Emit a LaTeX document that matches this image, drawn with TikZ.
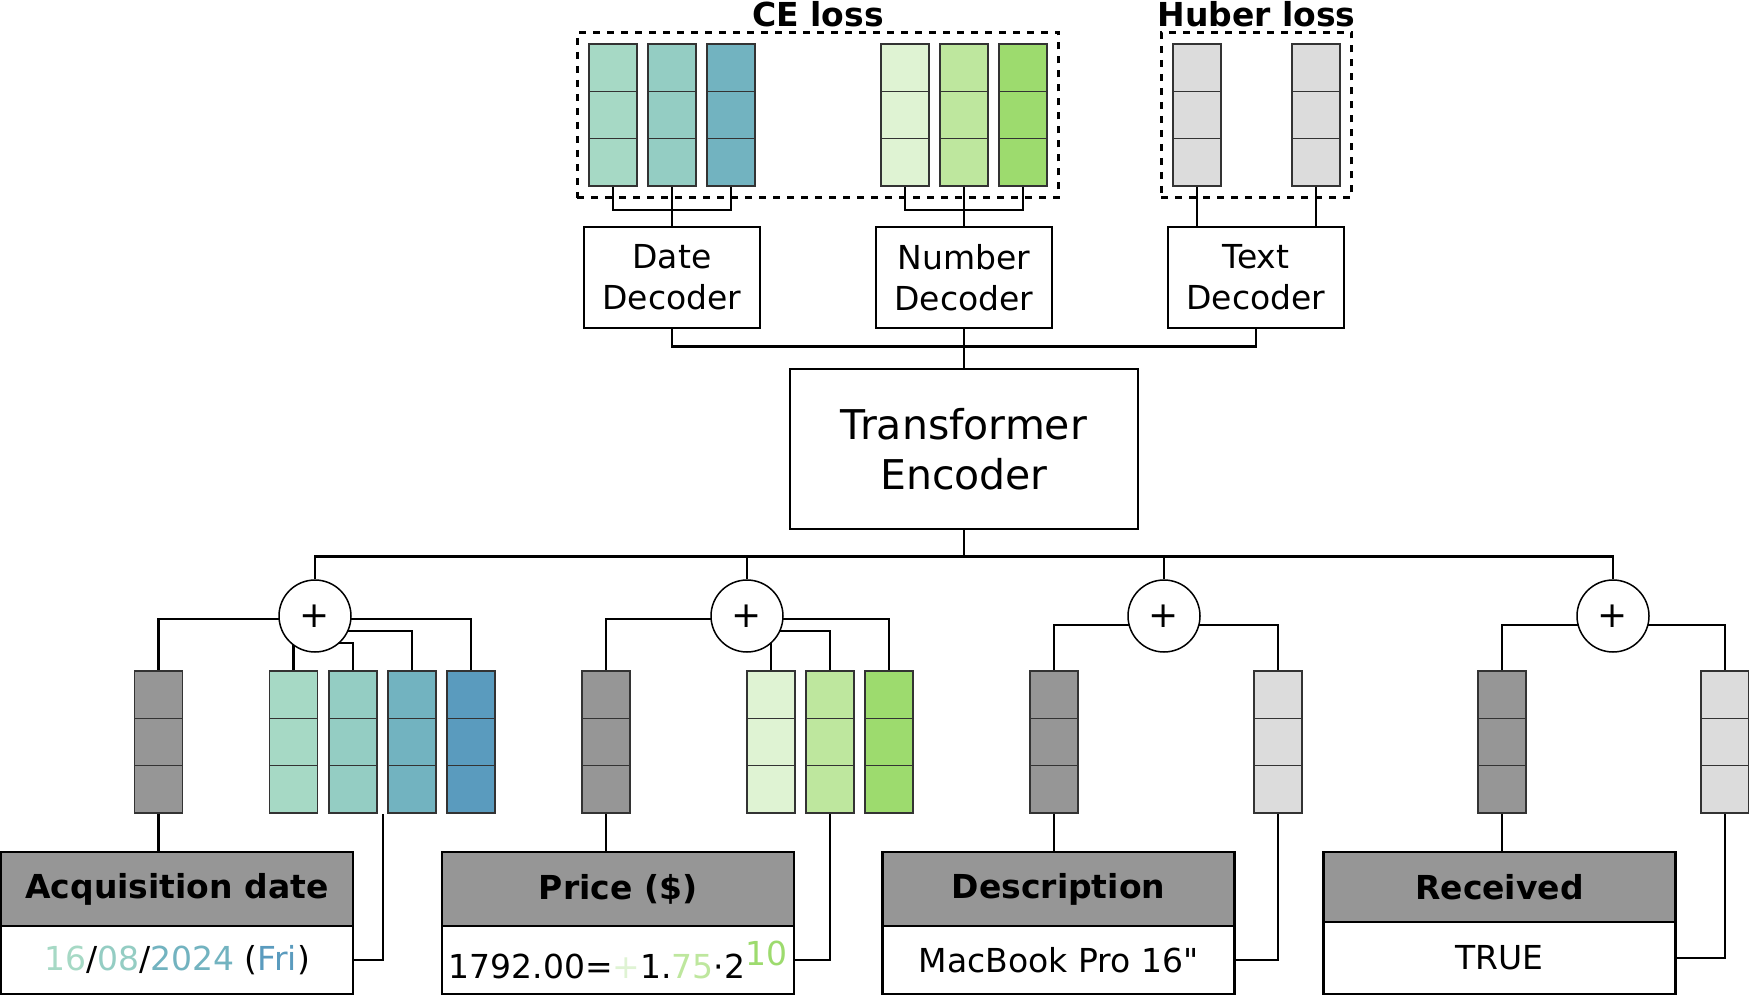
\documentclass[tikz,border=0pt]{standalone}
\usepackage{fontspec}
\setmainfont{DejaVu Sans}[Ligatures=TeXOff]
\usetikzlibrary{positioning, fit, backgrounds}

\definecolor{dateA}{HTML}{A6D9C5}
\definecolor{dateB}{HTML}{94CDC3}
\definecolor{dateC}{HTML}{72B3C0}
\definecolor{dateD}{HTML}{5A9BBE}
\definecolor{numA}{HTML}{DFF3D3}
\definecolor{numB}{HTML}{BEE79E}
\definecolor{numC}{HTML}{9DDB6E}
\definecolor{colgrey}{HTML}{969696}
\definecolor{txtgrey}{HTML}{DCDCDC}

\tikzset{
	conn/.style={line width=2.5pt},
	vec/.style={draw=black!80, line width=1.5pt, fill=#1, minimum width=48pt, minimum height=142pt, inner sep=0pt,
		path picture={\foreach \k in {1,2}
			\draw[line width=1.5pt] ([yshift=-\k*47.33pt]path picture bounding box.north west) -- ([yshift=-\k*47.33pt]path picture bounding box.north east);}},
	decoder/.style={draw, line width=2.5pt, minimum width=176pt, minimum height=101pt, align=center, font=\fontsize{33}{41}\selectfont},
	encoder/.style={draw, line width=2.5pt, minimum width=348pt, minimum height=160pt, align=center, font=\fontsize{41}{50}\selectfont},
	sumnode/.style={circle, draw, line width=1.5pt, fill=white, minimum size=72pt, inner sep=0pt, font=\fontsize{36}{36}\selectfont},
	lossbox/.style={draw, dash pattern=on 7pt off 7pt, line width=3pt, inner sep=11pt},
	losslabel/.style={font=\bfseries\fontsize{33}{33}\selectfont, anchor=base, inner sep=0pt},
	fieldhead/.style={draw, line width=2.5pt, outer sep=0pt, fill=colgrey, minimum width=352pt, minimum height=74pt, font=\bfseries\fontsize{33}{33}\selectfont},
	fieldval/.style={draw, line width=2.5pt, outer sep=0pt, fill=white, minimum width=352pt, minimum height=68pt, font=\fontsize{33}{33}\selectfont}
}

\begin{document}
\begin{tikzpicture}[x=1pt, y=-1pt]
	\useasboundingbox (0,0) rectangle (1749,996);

	% decoder outputs
	\node[vec=dateA] (ce1) at (613,115) {};
	\node[vec=dateB] (ce2) at (672,115) {};
	\node[vec=dateC] (ce3) at (731,115) {};
	\node[vec=numA] (ce4) at (905,115) {};
	\node[vec=numB] (ce5) at (964,115) {};
	\node[vec=numC] (ce6) at (1023,115) {};
	\node[vec=txtgrey] (hu1) at (1197,115) {};
	\node[vec=txtgrey] (hu2) at (1316,115) {};

	\node[lossbox, fit=(ce1)(ce6)] (ce) {};
	\node[losslabel] (celab) at ([yshift=4pt]ce.north) {CE loss};
	\node[lossbox, fit=(hu1)(hu2)] (hu) {};
	\node[losslabel] (hulab) at ([yshift=4pt]hu.north) {Huber loss};

	\node[decoder] (datedec) at (672,277.5) {Date\\Decoder};
	\node[decoder] (numdec) at (964,277.5) {Number\\Decoder};
	\node[decoder] (textdec) at (1256,277.5) {Text\\Decoder};

	\node[encoder] (enc) at (964,449) {Transformer\\Encoder};

	\node[sumnode] (sum1) at (315,616) {+};
	\node[sumnode] (sum2) at (747,616) {+};
	\node[sumnode] (sum3) at (1164,616) {+};
	\node[sumnode] (sum4) at (1613,616) {+};

	% input embeddings
	\node[vec=colgrey] (dg) at (158.5,742) {};
	\node[vec=dateA] (dt1) at (293.5,742) {};
	\node[vec=dateB] (dt2) at (353,742) {};
	\node[vec=dateC] (dt3) at (412,742) {};
	\node[vec=dateD] (dt4) at (471,742) {};

	\node[vec=colgrey] (pg) at (606,742) {};
	\node[vec=numA] (pn1) at (771,742) {};
	\node[vec=numB] (pn2) at (830,742) {};
	\node[vec=numC] (pn3) at (889,742) {};

	\node[vec=colgrey] (sg) at (1054,742) {};
	\node[vec=txtgrey] (st) at (1278,742) {};

	\node[vec=colgrey] (rg) at (1502,742) {};
	\node[vec=txtgrey] (rt) at (1725,742) {};

	% table columns
	\node[fieldhead] (acqhead) at (177,889) {Acquisition date};
	\node[fieldval, below=0pt of acqhead] (acqval) {\textcolor{dateA}{16}/\textcolor{dateB}{08}/\textcolor{dateC}{2024} (\textcolor{dateD}{Fri})};
	\node[fieldhead] (pricehead) at (618,889) {Price (\$)};
	\node[fieldval, below=0pt of pricehead] (priceval) {1792.00=\textcolor{numA}{+}1.\textcolor{numB}{75}·2\raisebox{13pt}{\textcolor{numC}{10}}};
	\node[fieldhead] (deschead) at (1058.5,889) {Description};
	\node[fieldval, below=0pt of deschead] (descval) {MacBook Pro 16"};
	\node[fieldhead, minimum height=70pt] (rechead) at (1499.5,887) {Received};
	\node[fieldval, minimum height=72pt, below=0pt of rechead] (recval) {TRUE};

	\coordinate (dateback) at (383,814);

	\begin{scope}[on background layer]
	\begin{scope}[conn]
		\draw (ce1.south) -- ++(0,23) -| (ce3.south);
		\draw (ce2.south) -- (datedec.north);
		\draw (ce4.south) -- ++(0,23) -| (ce6.south);
		\draw (ce5.south) -- (numdec.north);
		\draw (hu1.south) -- (hu1.south |- textdec.north);
		\draw (hu2.south) -- (hu2.south |- textdec.north);

		\draw (datedec.south) -- ++(0,17) -| (textdec.south);
		\draw (numdec.south) -- (enc.north);

		\draw (enc.south) -- ++(0,26) coordinate (bus);
		\draw (sum1.north) |- (bus) -| (sum4.north);
		\draw (sum2.north) -- (sum2.north |- bus);
		\draw (sum3.north) -- (sum3.north |- bus);

		% sums to embeddings
		\draw (dg.north) |- ([yshift=-3pt]sum1.center);
		\draw (dt1.north) -- (dt1.north |- sum1.center);
		\draw (dt2.north) |- ([yshift=-27pt]sum1.center);
		\draw (dt3.north) |- ([yshift=-15pt]sum1.center);
		\draw (dt4.north) |- ([yshift=-3pt]sum1.center);

		\draw (pg.north) |- ([yshift=-3pt]sum2.center);
		\draw (pn1.north) -- (pn1.north |- sum2.center);
		\draw (pn2.north) |- ([yshift=-15pt]sum2.center);
		\draw (pn3.north) |- ([yshift=-3pt]sum2.center);

		\draw (sg.north) |- ([yshift=-9pt]sum3.center);
		\draw (st.north) |- ([yshift=-9pt]sum3.center);
		\draw (rg.north) |- ([yshift=-9pt]sum4.center);
		\draw (rt.north) |- ([yshift=-9pt]sum4.center);

		% columns to embeddings
		\draw (dg.south) -- (dg.south |- acqhead.north);
		\draw (pg.south) -- (pg.south |- pricehead.north);
		\draw (sg.south) -- (sg.south |- deschead.north);
		\draw (rg.south) -- (rg.south |- rechead.north);

		\draw (acqval.east) -| (dateback);
		\draw (priceval.east) -| (pn2.south);
		\draw (descval.east) -| (st.south);
		\draw (recval.east) -| (rt.south);
	\end{scope}
	\end{scope}
\end{tikzpicture}
\end{document}
